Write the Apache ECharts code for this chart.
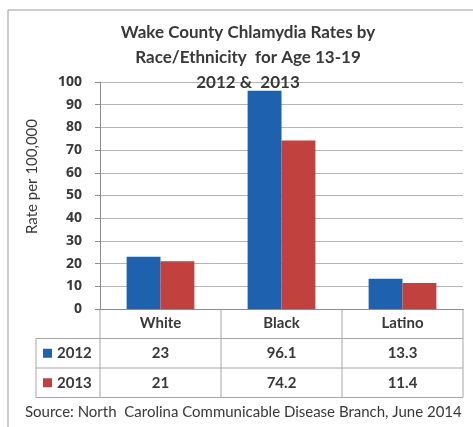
<!DOCTYPE html>
<html><head><meta charset="utf-8">
<script src="https://cdn.jsdelivr.net/npm/echarts@6/dist/echarts.min.js"></script>
<style>html,body{margin:0;padding:0;background:#fff}#c{width:473px;height:427px}</style>
</head><body><div id="c"></div>
<script>
const categories = ['White', 'Black', 'Latino'];
const seriesNames = ['2012', '2013'];
const values2012 = [23, 96.1, 13.3];
const values2013 = [21, 74.2, 11.4];
const tableLabels2012 = ['23', '96.1', '13.3'];
const tableLabels2013 = ['21', '74.2', '11.4'];
const titleLines = ['Wake County Chlamydia Rates by', 'Race/Ethnicity  for Age 13-19', '2012 &  2013'];
const yAxisName = 'Rate per 100,000';
const sourceText = 'Source: North  Carolina Communicable Disease Branch, June 2014';

const colors = ['#1d61af', '#c1413e'];
const font = 'Lato, "Open Sans", sans-serif';
const numFont = '"Open Sans", "Noto Sans", sans-serif';
const textColor = '#383838';
const lineColor = '#a6a6a6';

const chart = echarts.init(document.getElementById('c'));
chart.setOption({
  animation: false,
  backgroundColor: '#fff',
  title: {
    text: titleLines.join('\n'),
    left: 243, top: 15, textAlign: 'center',
    textStyle: { fontFamily: font, fontSize: 17, fontWeight: 'bold', color: textColor, lineHeight: 25 }
  },
  grid: { left: 100, right: 10, top: 82, bottom: 118 },
  xAxis: {
    type: 'category', data: categories,
    axisLine: { lineStyle: { color: '#8c8c8c' } },
    axisTick: { show: false },
    axisLabel: { fontFamily: font, fontSize: 15, fontWeight: 'bold', color: textColor, margin: 7 }
  },
  yAxis: {
    type: 'value', min: 0, max: 100, interval: 10,
    axisLine: { show: true, lineStyle: { color: '#8c8c8c' } },
    axisTick: { show: true, length: 5, lineStyle: { color: '#8c8c8c' } },
    axisLabel: { fontFamily: numFont, fontSize: 14, lineHeight: 14, fontWeight: 'bold', color: textColor, margin: 18 },
    splitLine: { lineStyle: { color: '#b5b5b5' } }
  },
  series: [
    { name: seriesNames[0], type: 'bar', data: values2012, itemStyle: { color: colors[0] }, barGap: '0%', barCategoryGap: '44%' },
    { name: seriesNames[1], type: 'bar', data: values2013, itemStyle: { color: colors[1] }, barGap: '0%', barCategoryGap: '44%' }
  ]
});

// Data table under the axis, positioned from the axis scales
const centers = categories.map(c => chart.convertToPixel({ xAxisIndex: 0 }, c));
const band = centers[1] - centers[0];
const left = centers[0] - band / 2;
const right = centers[centers.length - 1] + band / 2;
const y0 = chart.convertToPixel({ yAxisIndex: 0 }, 0);
const yTop = chart.convertToPixel({ yAxisIndex: 0 }, 100);
const rowH = 29.5;
const legendLeft = 36;
const g = [];
// outer frame
g.push({ type: 'rect', shape: { x: 8, y: 10, width: 500, height: 450 }, style: { fill: null, stroke: '#9a9a9a', lineWidth: 1 }, z: 0 });
// y axis name
g.push({ type: 'text', x: 32, y: (y0 + yTop) / 2 - 19, rotation: Math.PI / 2,
  style: { text: yAxisName, font: '15px ' + font, fill: textColor, align: 'center', verticalAlign: 'middle' } });
// horizontal lines
[1, 2, 3].forEach(i => {
  g.push({ type: 'line', shape: { x1: legendLeft, y1: y0 + rowH * i, x2: right, y2: y0 + rowH * i }, style: { stroke: lineColor, lineWidth: 1 } });
});
// vertical lines
for (let i = 0; i <= categories.length; i++) {
  const x = left + band * i;
  g.push({ type: 'line', shape: { x1: x, y1: y0, x2: x, y2: y0 + rowH * 3 }, style: { stroke: lineColor, lineWidth: 1 } });
}
g.push({ type: 'line', shape: { x1: legendLeft, y1: y0 + rowH, x2: legendLeft, y2: y0 + rowH * 3 }, style: { stroke: lineColor, lineWidth: 1 } });
const rows = [tableLabels2012, tableLabels2013];
rows.forEach((row, r) => {
  const cy = y0 + rowH * (r + 1.5);
  g.push({ type: 'rect', shape: { x: legendLeft + 7, y: cy - 4.5, width: 9, height: 9 }, style: { fill: colors[r] } });
  g.push({ type: 'text', x: legendLeft + 21, y: cy, style: { text: seriesNames[r], font: 'bold 15px ' + font, fill: textColor, verticalAlign: 'middle', align: 'left' } });
  row.forEach((t, i) => {
    g.push({ type: 'text', x: centers[i], y: cy, style: { text: t, font: 'bold 15px ' + font, fill: textColor, verticalAlign: 'middle', align: 'center' } });
  });
});
g.push({ type: 'text', x: 25, y: 412, style: { text: sourceText, font: '15px ' + font, fill: textColor, verticalAlign: 'middle', align: 'left' } });
chart.setOption({ graphic: g });
</script>
</body></html>
